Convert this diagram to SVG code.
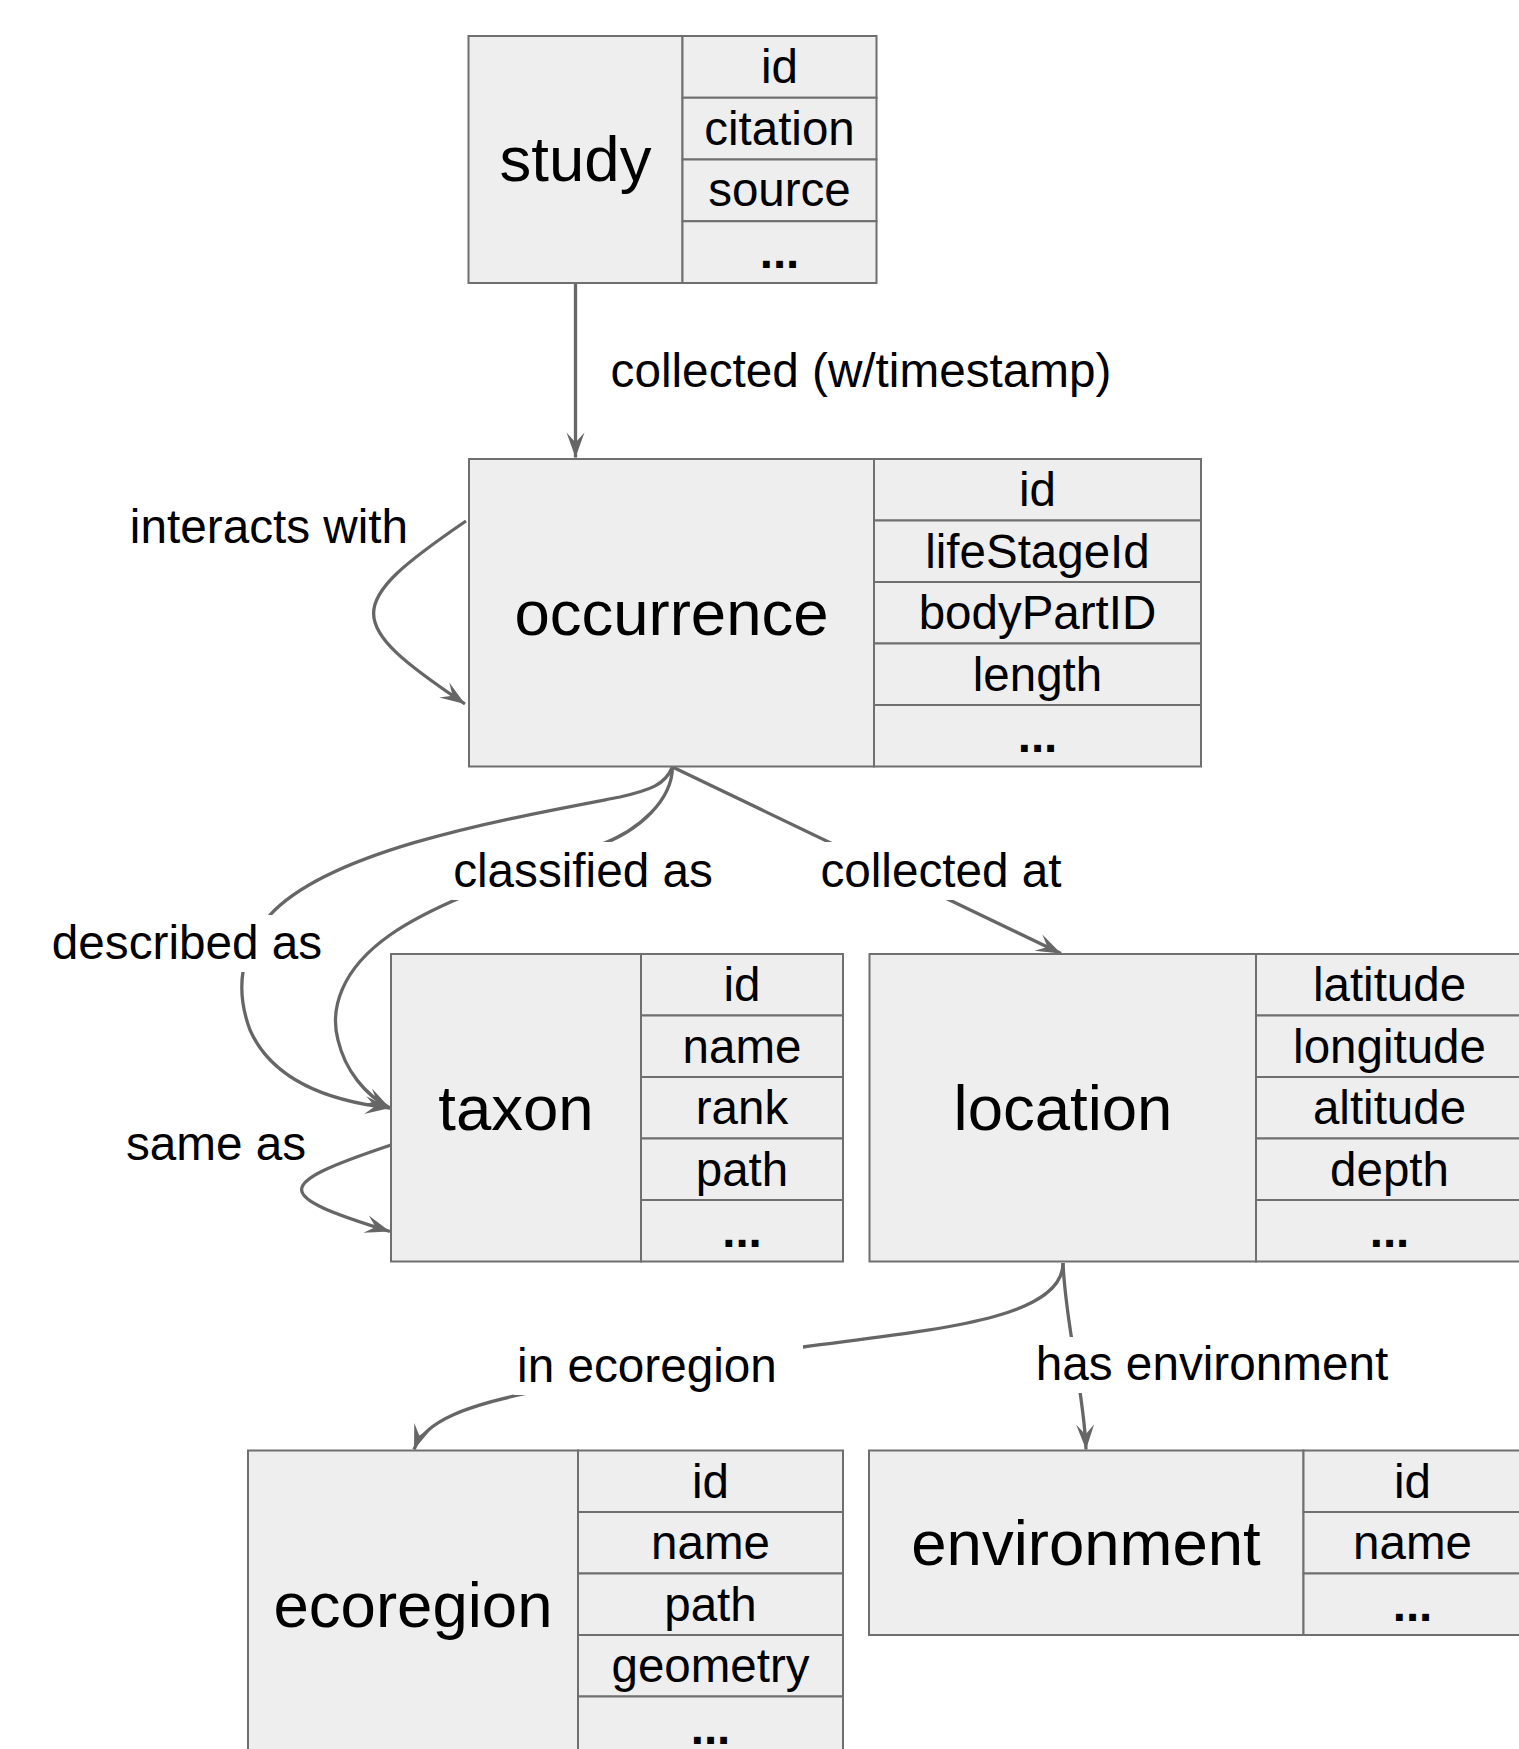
<svg xmlns="http://www.w3.org/2000/svg" width="1519" height="1749" viewBox="0 0 1519 1749">
<defs>
<style>
.box{fill:#eeeeee;stroke:#6f6f6f;stroke-width:2}
.title{font-family:"Liberation Sans",Arial,sans-serif;font-size:63.5px;fill:#000;text-anchor:middle}
.attr{font-family:"Liberation Sans",Arial,sans-serif;font-size:47.5px;fill:#000;text-anchor:middle}
.dots{font-weight:bold}
.edge{fill:none;stroke:#666666;stroke-width:3.3}
.lbl{font-family:"Liberation Sans",Arial,sans-serif;font-size:47.7px;fill:#000;text-anchor:middle}
.lblbg{fill:#ffffff;stroke:none}
</style>
<marker id="arr" markerUnits="userSpaceOnUse" markerWidth="26" markerHeight="18" viewBox="0 0 26 18" refX="25" refY="9" orient="auto" overflow="visible">
<path d="M0,0 L25,9 L0,18 L10,9 Z" fill="#666666"/>
</marker>
</defs>
<rect x="0" y="0" width="1519" height="1749" fill="#ffffff"/>

<g id="connectors">
<g id="edge-study-occurrence">
<path class="edge" d="M575.5,283 L575.5,457.5" marker-end="url(#arr)"/>
<text class="lbl" x="861" y="387">collected (w/timestamp)</text>
</g>
<g id="edge-interacts">
<path class="edge" d="M466,521 C343,605 343,622 465,704" marker-end="url(#arr)"/>
<text class="lbl" x="269" y="543">interacts with</text>
</g>
<g id="edge-described">
<path class="edge" d="M672.5,767 C665,785 650,790 620,797 C500,820 330,850 270,915 C240,950 235,990 250,1030 C270,1075 320,1100 390,1108" marker-end="url(#arr)"/>
<rect class="lblbg" x="48" y="915" width="277" height="57"/>
<text class="lbl" x="187" y="959">described as</text>
</g>
<g id="edge-classified">
<path class="edge" d="M672.5,767 C672,800 640,830 600,845 C520,875 440,900 390,935 C340,970 330,1010 338,1040 C345,1070 365,1095 390,1108" marker-end="url(#arr)"/>
<rect class="lblbg" x="450" y="842" width="266" height="58"/>
<text class="lbl" x="583" y="887">classified as</text>
</g>
<g id="edge-collected-at">
<path class="edge" d="M672.5,767 L1061,953.5" marker-end="url(#arr)"/>
<rect class="lblbg" x="816" y="842" width="250" height="58"/>
<text class="lbl" x="941" y="887">collected at</text>
</g>
<g id="edge-same-as">
<path class="edge" d="M391,1145 C272,1185 272,1195 390,1231.5" marker-end="url(#arr)"/>
<text class="lbl" x="216" y="1160">same as</text>
</g>
<g id="edge-ecoregion">
<path class="edge" d="M1063,1263 C1063,1320 930,1330 803,1347 C700,1362 600,1380 528,1393 C470,1405 425,1420 414,1449.5" marker-end="url(#arr)"/>
<rect class="lblbg" x="514" y="1338" width="289" height="57"/>
<text class="lbl" x="647" y="1382">in ecoregion</text>
</g>
<g id="edge-environment">
<path class="edge" d="M1063,1263 C1066,1330 1084,1390 1086,1449.5" marker-end="url(#arr)"/>
<rect class="lblbg" x="1031" y="1337" width="362" height="56"/>
<text class="lbl" x="1212" y="1380">has environment</text>
</g>
</g>

<g id="node-study">
<rect class="box" x="468.5" y="36" width="214" height="247"/>
<rect class="box" x="682.5" y="36" width="194" height="61.75"/>
<rect class="box" x="682.5" y="97.75" width="194" height="61.75"/>
<rect class="box" x="682.5" y="159.5" width="194" height="61.75"/>
<rect class="box" x="682.5" y="221.25" width="194" height="61.75"/>
<text class="title" x="575.5" y="181">study</text>
<text class="attr" x="779.5" y="83">id</text>
<text class="attr" x="779.5" y="144.6">citation</text>
<text class="attr" x="779.5" y="206.4">source</text>
<text class="attr dots" x="779.5" y="268">...</text>
</g>

<g id="node-occurrence">
<rect class="box" x="469" y="459" width="405" height="307.5"/>
<rect class="box" x="874" y="459" width="327" height="61.5"/>
<rect class="box" x="874" y="520.5" width="327" height="61.5"/>
<rect class="box" x="874" y="582" width="327" height="61.5"/>
<rect class="box" x="874" y="643.5" width="327" height="61.5"/>
<rect class="box" x="874" y="705" width="327" height="61.5"/>
<text class="title" x="671.5" y="635">occurrence</text>
<text class="attr" x="1037.5" y="506">id</text>
<text class="attr" x="1037.5" y="567.5">lifeStageId</text>
<text class="attr" x="1037.5" y="629">bodyPartID</text>
<text class="attr" x="1037.5" y="690.5">length</text>
<text class="attr dots" x="1037.5" y="752">...</text>
</g>

<g id="node-taxon">
<rect class="box" x="391" y="954" width="250" height="307.5"/>
<rect class="box" x="641" y="954" width="202" height="61.5"/>
<rect class="box" x="641" y="1015.5" width="202" height="61.5"/>
<rect class="box" x="641" y="1077" width="202" height="61.5"/>
<rect class="box" x="641" y="1138.5" width="202" height="61.5"/>
<rect class="box" x="641" y="1200" width="202" height="61.5"/>
<text class="title" x="516" y="1130">taxon</text>
<text class="attr" x="742" y="1001">id</text>
<text class="attr" x="742" y="1062.5">name</text>
<text class="attr" x="742" y="1124">rank</text>
<text class="attr" x="742" y="1185.5">path</text>
<text class="attr dots" x="742" y="1247">...</text>
</g>

<g id="node-location">
<rect class="box" x="869.5" y="954" width="386.5" height="307.5"/>
<rect class="box" x="1256" y="954" width="266" height="61.5"/>
<rect class="box" x="1256" y="1015.5" width="266" height="61.5"/>
<rect class="box" x="1256" y="1077" width="266" height="61.5"/>
<rect class="box" x="1256" y="1138.5" width="266" height="61.5"/>
<rect class="box" x="1256" y="1200" width="266" height="61.5"/>
<text class="title" x="1063" y="1130">location</text>
<text class="attr" x="1389.5" y="1001">latitude</text>
<text class="attr" x="1389.5" y="1062.5">longitude</text>
<text class="attr" x="1389.5" y="1124">altitude</text>
<text class="attr" x="1389.5" y="1185.5">depth</text>
<text class="attr dots" x="1389.5" y="1247">...</text>
</g>

<g id="node-ecoregion">
<rect class="box" x="248" y="1450.5" width="330" height="307.5"/>
<rect class="box" x="578" y="1450.5" width="265" height="61.5"/>
<rect class="box" x="578" y="1512" width="265" height="61.5"/>
<rect class="box" x="578" y="1573.5" width="265" height="61.5"/>
<rect class="box" x="578" y="1635" width="265" height="61.5"/>
<rect class="box" x="578" y="1696.5" width="265" height="61.5"/>
<text class="title" x="413" y="1627">ecoregion</text>
<text class="attr" x="710.5" y="1497.5">id</text>
<text class="attr" x="710.5" y="1559">name</text>
<text class="attr" x="710.5" y="1620.5">path</text>
<text class="attr" x="710.5" y="1682">geometry</text>
<text class="attr dots" x="710.5" y="1743.5">...</text>
</g>

<g id="node-environment">
<rect class="box" x="869" y="1450.5" width="434.5" height="184.5"/>
<rect class="box" x="1303.5" y="1450.5" width="218.5" height="61.5"/>
<rect class="box" x="1303.5" y="1512" width="218.5" height="61.5"/>
<rect class="box" x="1303.5" y="1573.5" width="218.5" height="61.5"/>
<text class="title" x="1086" y="1565">environment</text>
<text class="attr" x="1412.5" y="1497.5">id</text>
<text class="attr" x="1412.5" y="1559">name</text>
<text class="attr dots" x="1412.5" y="1620.5">...</text>
</g>
</svg>
